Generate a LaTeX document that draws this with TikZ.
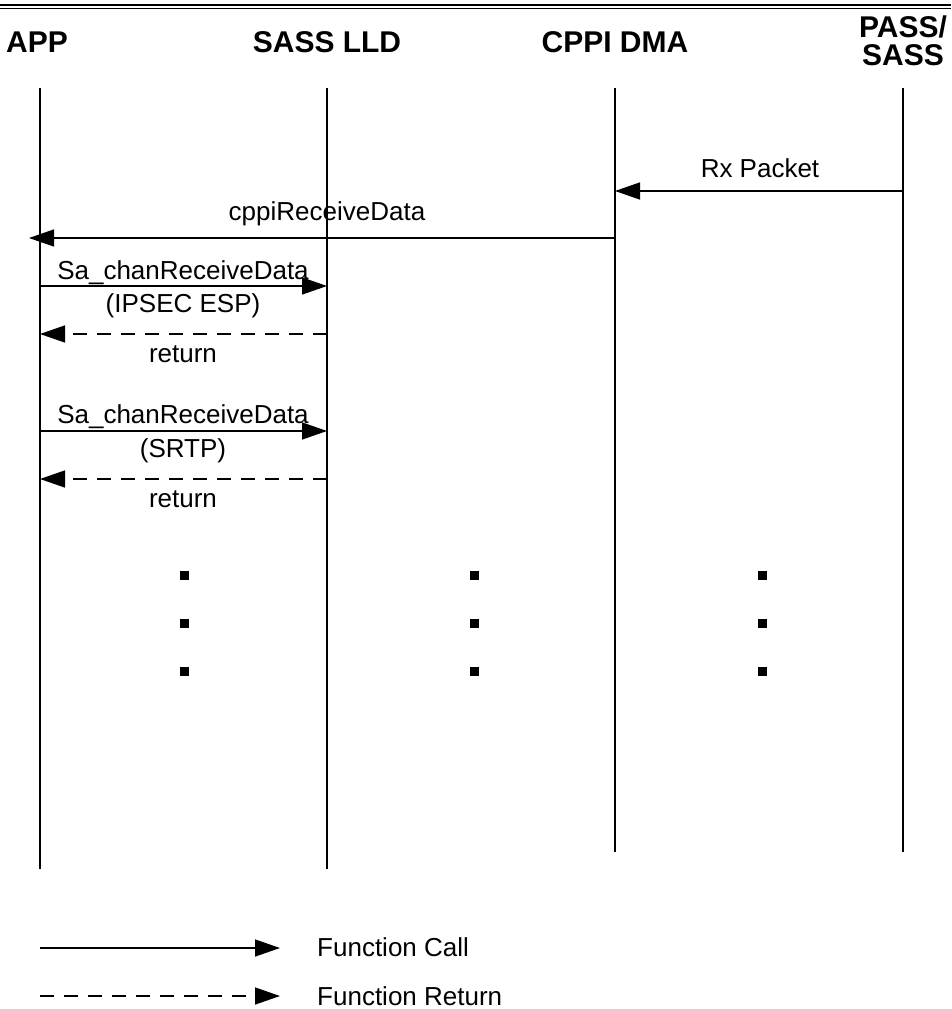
\documentclass[tikz,border=0pt]{standalone}
\usepackage{fontspec}
\setmainfont{Liberation Sans}
\usetikzlibrary{arrows.meta}

\tikzset{
  life/.style={line width=1.8pt},
  call/.style={line width=1.4pt,-{Triangle[length=25pt,width=17pt]}},
  ret/.style={call,dash pattern=on 14pt off 10pt},
  head/.style={font=\fontsize{30}{28}\selectfont\bfseries,inner sep=0pt,anchor=base,align=center},
  lbl/.style={font=\fontsize{26}{28}\selectfont,inner sep=0pt,anchor=base},
}

\begin{document}
\begin{tikzpicture}[x=1pt,y=1pt,yscale=-1,xscale=1]
    \useasboundingbox (0,0) rectangle (951,1009);

    %Double rule on top
    \draw [line width=2.8pt] (0,5) -- (951,5);
    \draw [line width=1.4pt] (0,8.2) -- (951,8.2);

    % Text Node
    \node [head] (app) at (37,52) {APP};
    % Text Node
    \node [head] (lld) at (327,52) {SASS LLD};
    % Text Node
    \node [head] (cppi) at (615,52) {CPPI DMA};
    % Text Node
    \node [head] (pass) at (903,65) {PASS/\\SASS};

    %Lifelines
    \coordinate (appT) at (40,88);   \coordinate (appB) at (40,869);
    \coordinate (lldT) at (327,88);  \coordinate (lldB) at (327,869);
    \coordinate (cppiT) at (615,88); \coordinate (cppiB) at (615,852);
    \coordinate (passT) at (903,88); \coordinate (passB) at (903,852);
    \draw [life] (appT) -- (appB);
    \draw [life] (lldT) -- (lldB);
    \draw [life] (cppiT) -- (cppiB);
    \draw [life] (passT) -- (passB);

    %Rx Packet
    \coordinate (rxFrom) at (903,191); \coordinate (rxTo) at (615,191);
    \draw [call] (rxFrom) -- (rxTo);
    \node [lbl] (rxLbl) at (760,177) {Rx Packet};

    %cppiReceiveData
    \coordinate (rcvFrom) at (615,238); \coordinate (rcvTo) at (29,238);
    \draw [call] (rcvFrom) -- (rcvTo);
    \node [lbl] (rcvLbl) at (327,220) {cppiReceiveData};

    %Sa_chanReceiveData, IPSEC ESP
    \coordinate (espFrom) at (40,286); \coordinate (espTo) at (327,286);
    \draw [call] (espFrom) -- (espTo);
    \node [lbl] (espLbl) at (183,279) {Sa\_chanReceiveData};
    \node [lbl] (espArg) at (183,312) {(IPSEC ESP)};
    \coordinate (espRetFrom) at (327,334); \coordinate (espRetTo) at (40,334);
    \draw [ret] (espRetFrom) -- (espRetTo);
    \node [lbl] (espRet) at (183,362) {return};

    %Sa_chanReceiveData, SRTP
    \coordinate (srtpFrom) at (40,431); \coordinate (srtpTo) at (327,431);
    \draw [call] (srtpFrom) -- (srtpTo);
    \node [lbl] (srtpLbl) at (183,423) {Sa\_chanReceiveData};
    \node [lbl] (srtpArg) at (183,457) {(SRTP)};
    \coordinate (srtpRetFrom) at (327,479); \coordinate (srtpRetTo) at (40,479);
    \draw [ret] (srtpRetFrom) -- (srtpRetTo);
    \node [lbl] (srtpRet) at (183,507) {return};

    %Continuation marks
    \foreach \x in {184,474,762}
      \foreach \y in {575,623,671}
        \fill (\x-4.5,\y-4.5) rectangle ++(9,9);

    %Legend
    \coordinate (keyCallA) at (40,948); \coordinate (keyCallB) at (280,948);
    \draw [call] (keyCallA) -- (keyCallB);
    \node [lbl,anchor=base west] (keyCall) at (317,956) {Function Call};
    \coordinate (keyRetA) at (40,996); \coordinate (keyRetB) at (280,996);
    \draw [ret] (keyRetA) -- (keyRetB);
    \node [lbl,anchor=base west] (keyRet) at (317,1005) {Function Return};
\end{tikzpicture}
\end{document}
